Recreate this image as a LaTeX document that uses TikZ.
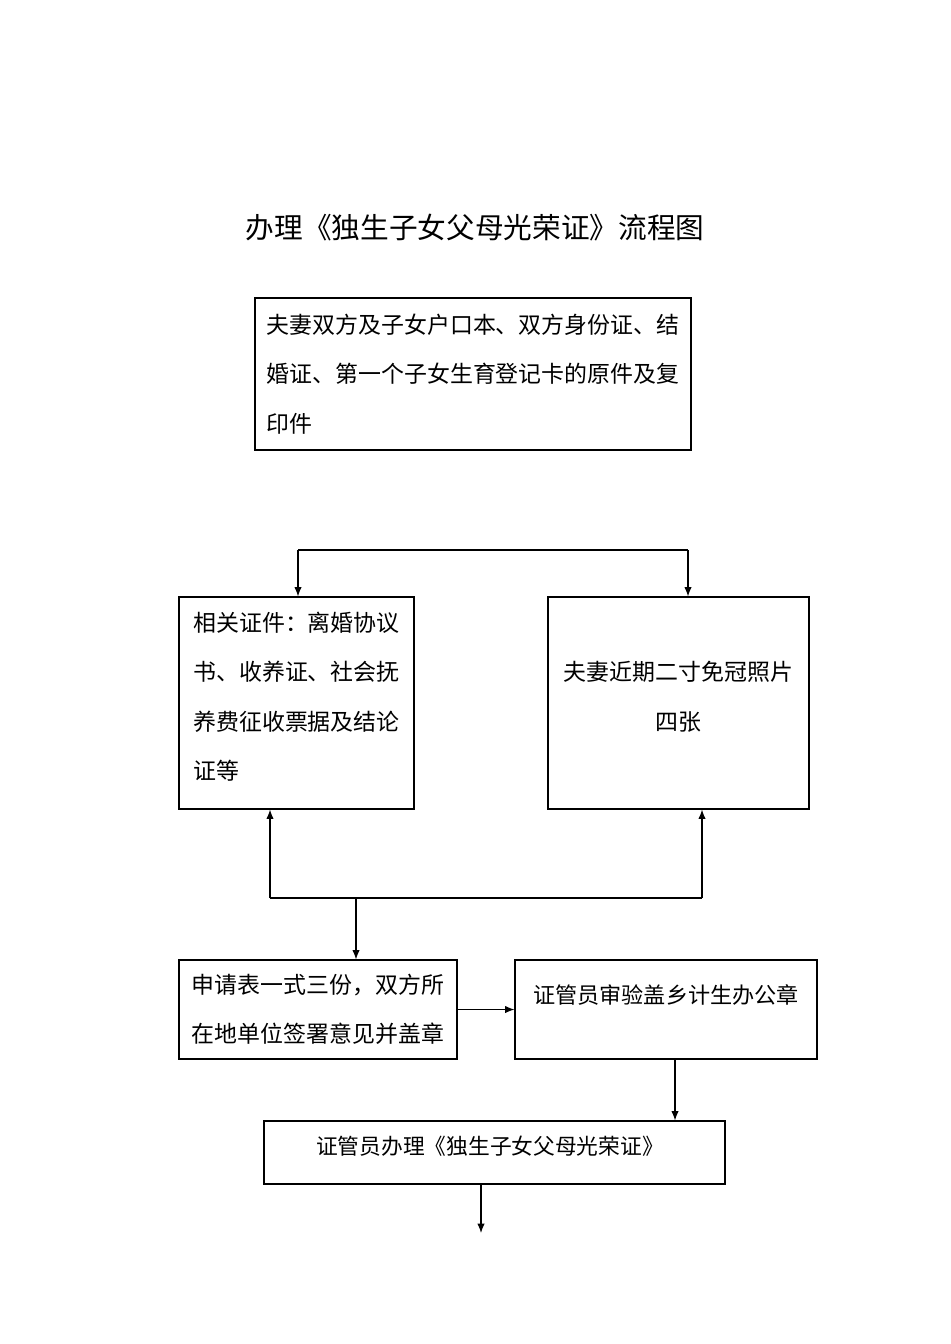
\documentclass[tikz,border=0pt]{standalone}
\usepackage{fontspec}
\setmainfont{Noto Sans CJK SC}
\usetikzlibrary{arrows.meta, positioning}
\newcommand{\liftup}{\rule[-11pt]{0pt}{11pt}}

\begin{document}
\begin{tikzpicture}[x=0.75pt, y=-0.75pt, >={Latex[length=7pt,width=5.5pt]},
    box/.style={draw, line width=0.8pt, align=left, font=\fontsize{17.2}{37}\selectfont},
    txt/.style={font=\fontsize{16.6}{37}\selectfont},
    link/.style={line width=0.9pt}]
  \useasboundingbox (0,0) rectangle (950,1344);

  \node[font=\fontsize{21.5}{26}\selectfont] (title) at (475,228) {办理《独生子女父母光荣证》流程图};

  \node[box, minimum width=327pt, minimum height=114pt] (docs) at (473,374)
    {夫妻双方及子女户口本、双方身份证、结\\婚证、第一个子女生育登记卡的原件及复\\印件};

  \node[box, minimum width=176.25pt, minimum height=159pt] (certs) at (296.5,703)
    {相关证件：离婚协议\\书、收养证、社会抚\\养费征收票据及结论\\证等\liftup};
  \node[box, align=center, minimum width=195.75pt, minimum height=159pt] (photos) at (678.5,703)
    {夫妻近期二寸免冠照片\\四张\liftup};

  \node[box, minimum width=208.5pt, minimum height=74.25pt] (apply) at (318,1009.5)
    {申请表一式三份，双方所\\在地单位签署意见并盖章};
  \node[box, minimum width=226.5pt, minimum height=74.25pt] (check) at (666,1009.5) {};
  \node[txt] (checktext) at (666,995) {证管员审验盖乡计生办公章};

  \node[box, minimum width=345.75pt, minimum height=47.25pt] (issue) at (494.5,1152.5) {};
  \node[txt, font=\fontsize{16.3}{37}\selectfont] (issuetext) at (490,1146) {证管员办理《独生子女父母光荣证》};

  % split above the two boxes
  \coordinate (splitL) at (298,550);
  \coordinate (splitR) at (688,550);
  \draw[link] (splitL) -- (splitR);
  \draw[link, ->] (splitL) -- (splitL |- certs.north);
  \draw[link, ->] (splitR) -- (splitR |- photos.north);

  % join below the two boxes
  \coordinate (joinL) at (270,898);
  \coordinate (joinR) at (702,898);
  \coordinate (joinM) at (356,898);
  \draw[link] (joinL) -- (joinR);
  \draw[link, ->] (joinL) -- (joinL |- certs.south);
  \draw[link, ->] (joinR) -- (joinR |- photos.south);
  \draw[link, ->] (joinM) -- (joinM |- apply.north);

  \draw[link, ->] (apply) -- (check);
  \draw[link, ->] ([xshift=6.75pt]check.south) -- ([xshift=6.75pt]check.south |- issue.north);

  \coordinate (finish) at (481,1233);
  \draw[link, ->] (finish |- issue.south) -- (finish);
\end{tikzpicture}
\end{document}
